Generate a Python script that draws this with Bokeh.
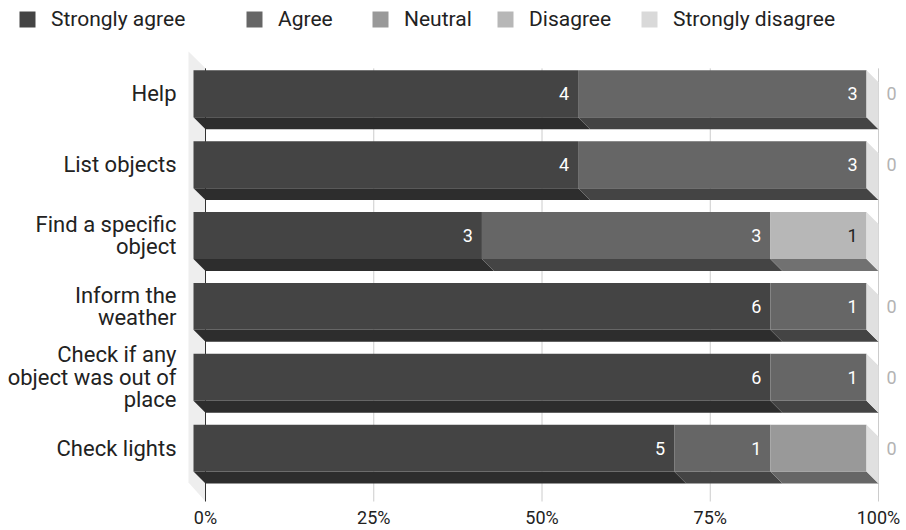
from bokeh.plotting import figure
from bokeh.models import Range1d, FixedTicker, Legend, LegendItem, ColumnDataSource
from bokeh.core.properties import value
from bokeh.embed import file_html
from bokeh.resources import INLINE

# ---------------- data ----------------
categories = ["Help", "List objects", "Find a specific\nobject", "Inform the\nweather",
              "Check if any\nobject was out of\nplace", "Check lights"]
series_names = ["Strongly agree", "Agree", "Neutral", "Disagree", "Strongly disagree"]
strongly_agree = [4, 4, 3, 6, 6, 5]
agree = [3, 3, 3, 1, 1, 1]
neutral = [0, 0, 0, 0, 0, 1]
disagree = [0, 0, 1, 0, 0, 0]
strongly_disagree = [0, 0, 0, 0, 0, 0]
# value annotations as shown on the chart
sa_labels = ["4", "4", "3", "6", "6", "5"]
a_labels = ["3", "3", "3", "1", "1", "1"]
n_labels = ["", "", "", "", "", ""]
d_labels = ["", "", "1", "", "", ""]
sd_labels = ["0", "0", "", "0", "0", "0"]
tick_values = [0, 25, 50, 75, 100]
tick_labels = ["0%", "25%", "50%", "75%", "100%"]

# ---------------- style ----------------
FONT = "Roboto"
front_colors = ["#444444", "#666666", "#999999", "#b7b7b7", "#d9d9d9"]
bottom_colors = ["#2d2d2d", "#444444", "#666666", "#717171", "#9a9a9a"]
label_colors = ["#ffffff", "#ffffff", "#222222", "#222222", "#b3b3b3"]
side_color = "#e0e0e0"
wall_color = "#eeeeee"
legend_square_px = [19, 246, 372, 497, 641]

W, H = 906, 530
FRAME_BOTTOM = 503
X0PX, X100PX = 205, 878
SX = (X100PX - X0PX) / 100.0      # px per percent
ROW_PX = 71.0                      # px per row
ROW0_PX = 93.5                     # px of first row's front-face centre
PX = 1.0 / SX                      # data-x per px
PY = 1.0 / ROW_PX                  # data-y per px
DX, DY = 12 * PX, 12 * PY          # 3D depth
HALF = 23.5 * PY                   # half height of a bar

p = figure(width=W, height=H, output_backend="svg", toolbar_location=None,
           x_range=Range1d(-X0PX * PX, (W - X0PX) * PX),
           y_range=Range1d((FRAME_BOTTOM - ROW0_PX) * PY, -ROW0_PX * PY),
           min_border_left=0, min_border_right=0, min_border_top=0,
           min_border_bottom=H - FRAME_BOTTOM, outline_line_color=None)
p.yaxis.visible = False
p.xgrid.visible = False
p.ygrid.visible = False
p.background_fill_color = "#ffffff"
p.border_fill_color = "#ffffff"

xa = p.xaxis[0]
xa.ticker = FixedTicker(ticks=tick_values)
xa.major_label_overrides = {v: l for v, l in zip(tick_values, tick_labels)}
xa.axis_line_color = None
xa.major_tick_line_color = None
xa.minor_tick_line_color = None
xa.major_tick_out = 0
xa.major_tick_in = 0
xa.minor_tick_out = 0
xa.minor_tick_in = 0
xa.major_label_standoff = 4
xa.major_label_text_font = FONT
xa.major_label_text_font_size = "18px"
xa.major_label_text_color = "#222222"

n = len(categories)
rows = list(range(n))
series = [strongly_agree, agree, neutral, disagree, strongly_disagree]
labels = [sa_labels, a_labels, n_labels, d_labels, sd_labels]
totals = [sum(s[i] for s in series) for i in rows]

# left wall
wall_top = -HALF - 19 * PY
p.patch([-17 * PX, 0, 0, -17 * PX],
        [wall_top, wall_top + 17 * PY, (FRAME_BOTTOM - 1 - ROW0_PX) * PY, (FRAME_BOTTOM - 20 - ROW0_PX) * PY],
        fill_color=wall_color, line_color=None)

# gridlines (back plane)
g_top = -HALF - 2 * PY
g_bot = (FRAME_BOTTOM - 1 - ROW0_PX) * PY
p.segment(x0=tick_values, x1=tick_values, y0=[g_top] * 5, y1=[g_bot] * 5,
          line_color=["#333333"] + ["#cccccc"] * 4, line_width=1)

cum = [0.0] * n
renderers = []
for k, s in enumerate(series):
    start = [cum[i] for i in rows]
    end = [cum[i] + 100.0 * s[i] / totals[i] for i in rows]
    cum = end
    # bottom faces
    bxs, bys = [], []
    for i in rows:
        if end[i] > start[i]:
            bxs.append([start[i] - DX, end[i] - DX, end[i], start[i]])
            bys.append([i + HALF, i + HALF, i + HALF + DY, i + HALF + DY])
    if bxs:
        p.patches(bxs, bys, fill_color=bottom_colors[k], line_color=None)
    # front faces
    src = ColumnDataSource(dict(y=rows, left=[v - DX for v in start], right=[v - DX for v in end]))
    r = p.hbar(y="y", left="left", right="right", height=2 * HALF, source=src,
               fill_color=front_colors[k], line_color=None)
    renderers.append(r)
    # value labels
    lx, ly, lt = [], [], []
    for i in rows:
        if labels[k][i]:
            if end[i] > start[i]:
                lx.append(end[i] - DX - 9 * PX)
            else:
                lx.append(end[i] + 8 * PX)
            ly.append(i)
            lt.append(labels[k][i])
    if lt:
        p.text(x=lx, y=ly, text=lt, text_align="right" if k < 4 else "left",
               text_baseline="middle", text_font=value(FONT), text_font_size="18px",
               text_color=label_colors[k])

# right side faces at 100%
sxs, sys_ = [], []
for i in rows:
    sxs.append([100 - DX, 100, 100, 100 - DX])
    sys_.append([i - HALF, i - HALF + DY, i + HALF + DY, i + HALF])
p.patches(sxs, sys_, fill_color=side_color, line_color=None)

# category labels
p.text(x=[-29 * PX] * n, y=rows, text=categories, text_align="right", text_baseline="middle",
       text_font=value(FONT), text_font_size="22px", text_color="#222222", text_line_height=0.9)

# legend: one box per item so each sits where the reference has it
for nm, r, sq in zip(series_names, renderers, legend_square_px):
    lg = Legend(items=[LegendItem(label=nm, renderers=[r])],
                orientation="horizontal", location=(sq - 2, FRAME_BOTTOM - 32),
                glyph_width=20, glyph_height=20, label_standoff=14, spacing=0,
                padding=9, margin=0, border_line_color=None, background_fill_alpha=0,
                label_text_font=FONT, label_text_font_size="21px", label_text_color="#222222")
    p.add_layout(lg)

open("out.html", "w").write(file_html(p, INLINE))
